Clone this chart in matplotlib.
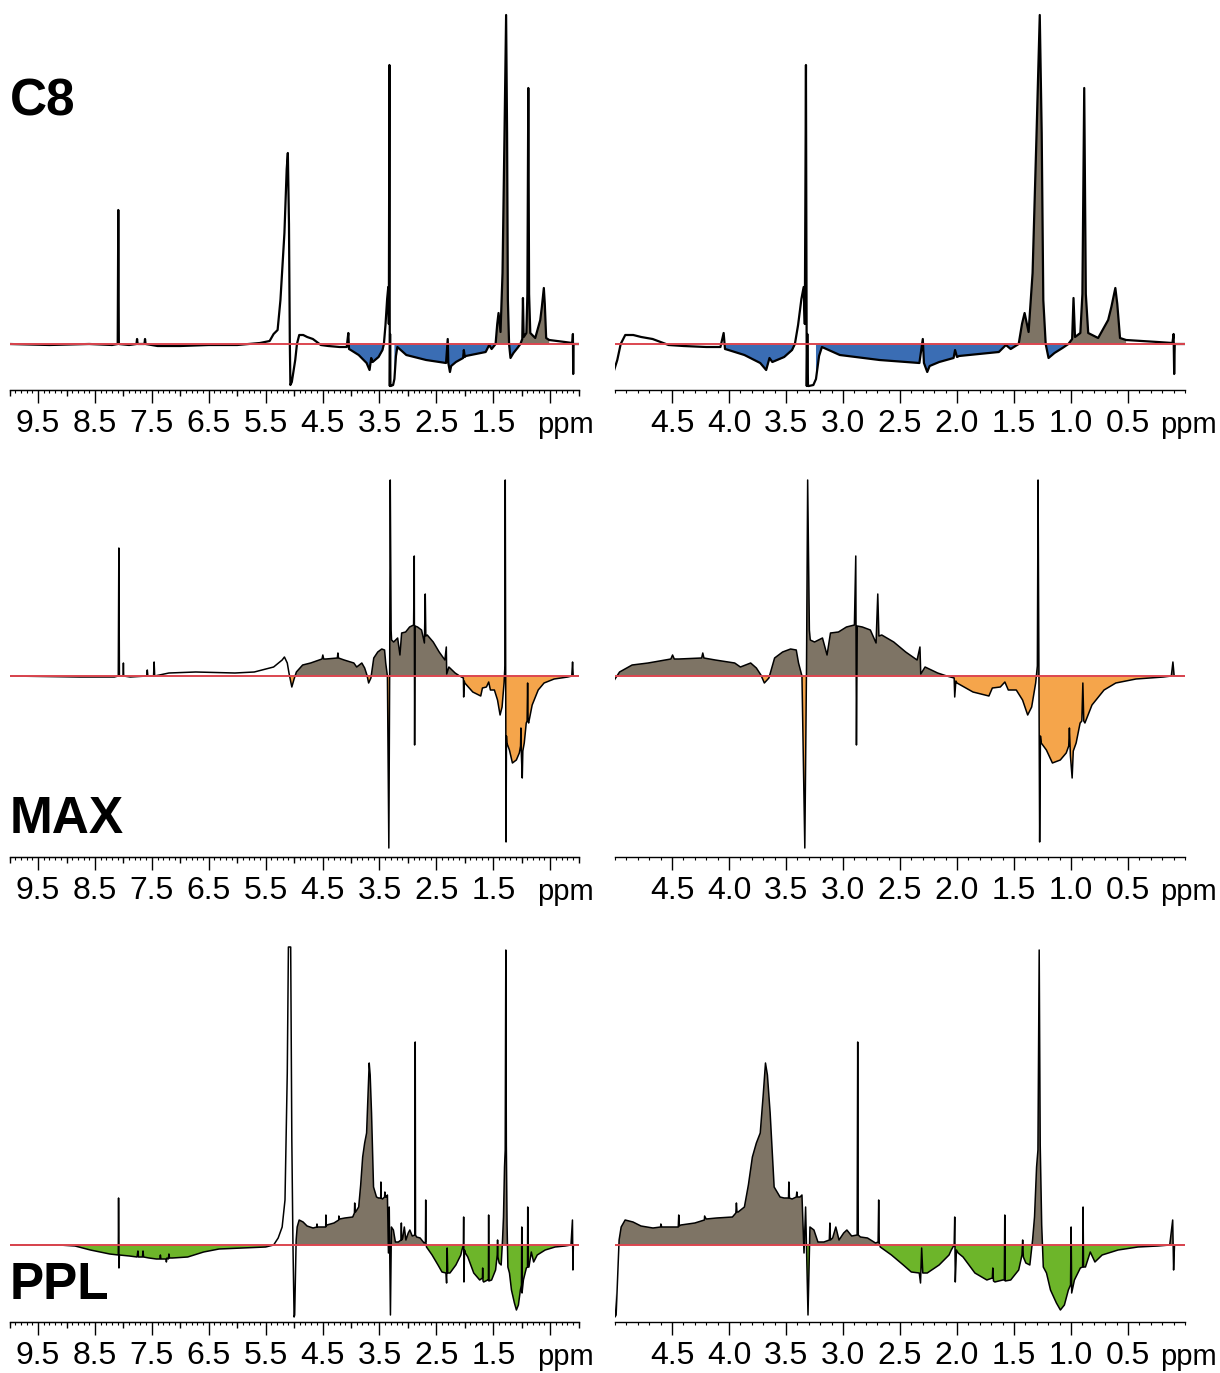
import matplotlib
matplotlib.use('Agg')
import matplotlib.pyplot as plt
import matplotlib.transforms as mtransforms
from matplotlib.ticker import MultipleLocator, NullLocator
import numpy as np

plt.rcParams['font.family'] = ['Liberation Sans', 'DejaVu Sans']

# spectra: (ppm, intensity above baseline)
c8_points = [
    (10.0, 0), (9.3, -1), (8.6, 0), (8.2, -1), (8.10, 0), (8.09, 134), (8.08, 0), (7.9, -1),
    (7.77, 0), (7.76, 5), (7.75, 0), (7.63, 0), (7.62, 5), (7.61, 0), (7.4, -2), (7.0, -2),
    (6.5, -1), (6.0, -1), (5.6, 1), (5.43, 3), (5.36, 10), (5.29, 14), (5.24, 44), (5.17, 111),
    (5.13, 175), (5.11, 191), (5.09, 120), (5.075, 0), (5.065, -41), (5.04, -38), (4.98, -16),
    (4.95, 0), (4.91, 9), (4.84, 9), (4.77, 7), (4.67, 5), (4.60, 2), (4.53, -1), (4.4, -2),
    (4.2, -3), (4.075, -3), (4.047, 11), (4.035, -5), (4.005, -6), (3.865, -11), (3.726, -19),
    (3.674, -26), (3.645, -14), (3.62, -18), (3.516, -13), (3.447, -6), (3.422, 0), (3.394, 19),
    (3.365, 45), (3.345, 57), (3.335, 20), (3.325, 279), (3.318, -42), (3.313, 10), (3.307, -42),
    (3.30, -42), (3.26, -41), (3.237, -35), (3.21, -12), (3.185, -3), (3.028, -11), (2.68, -16),
    (2.33, -19), (2.30, 5), (2.29, -19), (2.261, -28), (2.24, -22), (2.156, -18), (2.03, -14),
    (2.017, -6), (2.0, -13), (1.982, -12), (1.633, -8), (1.571, -1), (1.529, -5), (1.459, 0),
    (1.43, 20), (1.407, 31), (1.372, 12), (1.337, 71), (1.302, 211), (1.274, 329), (1.257, 211),
    (1.243, 44), (1.222, 0), (1.197, -14), (1.145, -9), (1.075, -4), (1.023, 0), (0.99, 5),
    (0.978, 46), (0.965, 7), (0.918, 11), (0.90, 50), (0.884, 256), (0.87, 50), (0.849, 11),
    (0.762, 6), (0.674, 24), (0.646, 37), (0.611, 56), (0.594, 40), (0.57, 6), (0.517, 4),
    (0.24, 2), (0.11, 1), (0.1, 10), (0.095, -30), (0.09, 0), (0.0, 0),
]

max_points = [
    (10.0, 0), (8.77, -1), (8.16, -1), (8.09, 0), (8.08, 128), (8.07, 0), (8.005, 0), (8.0, 13),
    (7.995, 0), (7.88, -1), (7.59, 0), (7.58, 6), (7.57, 0), (7.47, 0), (7.46, 14), (7.45, 0),
    (7.2, 3), (6.73, 4), (6.04, 3), (5.7, 4), (5.36, 9), (5.21, 16), (5.17, 19), (5.12, 13),
    (5.09, 3), (5.04, -11), (5.0, -3), (4.96, 4), (4.85, 11), (4.71, 13), (4.51, 17), (4.495, 21),
    (4.48, 17), (4.44, 17), (4.24, 18), (4.23, 23), (4.22, 18), (4.12, 16), (3.95, 13), (3.9, 9),
    (3.81, 13), (3.76, 8), (3.72, 1), (3.69, -7), (3.65, -2), (3.60, 18), (3.53, 24), (3.46, 27),
    (3.41, 26), (3.39, 13), (3.36, 0), (3.335, -172), (3.32, 10), (3.31, 196), (3.295, 46),
    (3.287, 36), (3.25, 34), (3.18, 38), (3.14, 21), (3.11, 43), (3.04, 44), (2.97, 49),
    (2.90, 51), (2.888, 120), (2.882, -69), (2.875, 50), (2.83, 49), (2.76, 46), (2.71, 33),
    (2.695, 82), (2.685, 40), (2.66, 41), (2.555, 34), (2.45, 24), (2.35, 16), (2.325, 29),
    (2.318, 2), (2.28, 9), (2.17, 3), (2.09, 0), (2.025, -2), (2.02, -21), (2.01, -5), (2.0, -7),
    (1.86, -16), (1.72, -20), (1.69, -12), (1.62, -11), (1.58, -6), (1.55, -14), (1.48, -14),
    (1.425, -24), (1.38, -39), (1.345, -31), (1.31, -7), (1.295, 10), (1.289, 196), (1.282, 20),
    (1.275, -166), (1.268, -60), (1.261, -67), (1.216, -74), (1.163, -87), (1.094, -84),
    (1.042, -77), (1.02, -70), (1.014, -52), (1.005, -80), (0.99, -102), (0.98, -75),
    (0.955, -67), (0.92, -47), (0.905, -45), (0.896, -7), (0.888, -45), (0.878, -47),
    (0.816, -29), (0.71, -14), (0.607, -7), (0.43, -3), (0.19, -1), (0.12, 0), (0.106, 14),
    (0.095, 0), (0.0, 0),
]

ppl_points = [
    (10.0, 0), (9.13, 0), (8.85, -1), (8.58, -5), (8.24, -9), (8.09, -10), (8.085, 47),
    (8.078, -23), (8.07, -10), (7.895, -11), (7.76, -12), (7.745, -6), (7.735, -12), (7.665, -12),
    (7.655, -6), (7.645, -12), (7.55, -13), (7.42, -14), (7.36, -14), (7.35, -10), (7.34, -14),
    (7.25, -14), (7.245, -17), (7.235, -13), (7.21, -14), (7.2, -9), (7.19, -13), (7.14, -13),
    (6.87, -12), (6.59, -7), (6.32, -4), (5.91, -3), (5.5, -2), (5.36, 0), (5.28, 7), (5.21, 18),
    (5.16, 45), (5.12, 172), (5.10, 298), (5.06, 298), (5.04, 105), (5.02, 0), (5.0, -72),
    (4.99, -70), (4.975, -28), (4.964, 5), (4.946, 18), (4.911, 25), (4.842, 23), (4.772, 19),
    (4.667, 17), (4.60, 18), (4.598, 21), (4.59, 18), (4.493, 18), (4.445, 18), (4.441, 30),
    (4.437, 19), (4.423, 20), (4.3, 22), (4.216, 25), (4.214, 29), (4.20, 26), (4.109, 27),
    (3.97, 28), (3.94, 32), (3.935, 42), (3.93, 33), (3.92, 33), (3.865, 38), (3.83, 60),
    (3.795, 88), (3.76, 102), (3.726, 112), (3.70, 150), (3.68, 182), (3.663, 170), (3.639, 132),
    (3.604, 58), (3.552, 48), (3.517, 47), (3.478, 47), (3.475, 63), (3.47, 47), (3.447, 46),
    (3.41, 48), (3.405, 53), (3.40, 48), (3.377, 48), (3.36, 50), (3.342, -8), (3.328, 38),
    (3.307, -70), (3.29, 18), (3.255, 15), (3.22, 3), (3.168, 3), (3.12, 5), (3.115, 22),
    (3.11, 5), (3.091, 7), (3.063, 18), (3.035, 5), (2.994, 12), (2.966, 15), (2.924, 9),
    (2.876, 10), (2.871, 203), (2.866, 10), (2.847, 8), (2.785, 7), (2.715, 2), (2.692, 3),
    (2.687, 45), (2.682, 2), (2.673, -2), (2.575, -10), (2.471, -20), (2.401, -27), (2.331, -28),
    (2.32, -38), (2.31, -3), (2.30, -28), (2.261, -28), (2.157, -20), (2.07, -10), (2.05, -5),
    (2.025, 0), (2.02, 28), (2.015, -37), (2.005, -5), (1.99, -8), (1.947, -12), (1.843, -28),
    (1.738, -35), (1.69, -33), (1.686, -23), (1.68, -36), (1.668, -37), (1.598, -35),
    (1.585, -35), (1.581, 30), (1.577, -36), (1.529, -35), (1.459, -25), (1.43, -10),
    (1.424, 5), (1.418, -12), (1.396, -18), (1.361, -20), (1.337, 5), (1.32, 28), (1.302, 78),
    (1.29, 95), (1.279, 295), (1.27, 100), (1.257, 20), (1.243, -22), (1.215, -28), (1.18, -45),
    (1.128, -58), (1.093, -65), (1.058, -60), (1.023, -45), (1.004, -40), (0.999, 18),
    (0.994, -48), (0.97, -35), (0.918, -23), (0.898, -22), (0.894, 38), (0.89, -22),
    (0.873, -22), (0.831, -7), (0.79, -17), (0.727, -10), (0.587, -5), (0.413, -2),
    (0.238, -1), (0.134, 0), (0.108, 25), (0.1, -25), (0.092, 0), (0.0, 0),
]

labels = ['C8', 'MAX', 'PPL']
neg_colors = ['#3a6db4', '#f5a54b', '#6db52a']
fill_spans = [
    [(4.04, 3.42), (3.25, 0.5)],
    [(5.09, 0.0)],
    [(9.13, 5.36), (4.964, 0.0)],
]
pos_color = '#7e7465'
base_color = '#dc4650'

left_ticks = [9.5, 8.5, 7.5, 6.5, 5.5, 4.5, 3.5, 2.5, 1.5, 0.5]
left_ticklabels = ['9.5', '8.5', '7.5', '6.5', '5.5', '4.5', '3.5', '2.5', '1.5', '']
right_ticks = [4.5, 4.0, 3.5, 3.0, 2.5, 2.0, 1.5, 1.0, 0.5]
right_ticklabels = ['4.5', '4.0', '3.5', '3.0', '2.5', '2.0', '1.5', '1.0', '0.5']

# layout in pixels: (top, axis line, baseline, label baseline)
W, H = 1220, 1373
rows_px = [(5, 390, 344, 115), (470, 857, 676, 833), (940, 1322, 1245, 1299)]
line_w = [1.6, 1.1, 1.1]

fig = plt.figure(figsize=(W / 100, H / 100), dpi=100)


def px_axes(x0, x1, top, bottom):
    return fig.add_axes([x0 / W, 1 - bottom / H, (x1 - x0) / W, (bottom - top) / H])


all_points = [c8_points, max_points, ppl_points]
for i, pts in enumerate(all_points):
    ppm, inten = np.array(pts, dtype=float).T
    top, axis_y, base_y, lab_y = rows_px[i]
    for side in ['left', 'right']:
        if side == 'left':
            ax = px_axes(9.6, 578.6, top, axis_y)
            ax.set_xlim(10, 0)
        else:
            ax = px_axes(615, 1185, top, axis_y)
            ax.set_xlim(5, 0)
        ax.set_ylim(-(axis_y - base_y), base_y - top)

        for hi, lo in fill_spans[i]:
            m = (ppm <= hi) & (ppm >= lo)
            xs, ys = ppm[m], inten[m]
            ax.fill_between(xs, ys, 0, where=ys > 0, interpolate=True,
                            color=pos_color, lw=0, zorder=1)
            ax.fill_between(xs, ys, 0, where=ys < 0, interpolate=True,
                            color=neg_colors[i], lw=0, zorder=1)
        ax.plot(ppm, inten, color='black', lw=line_w[i], zorder=2)
        ax.axhline(0, color=base_color, lw=1.4, zorder=3)

        for s in ['top', 'left', 'right']:
            ax.spines[s].set_visible(False)
        ax.spines['bottom'].set_linewidth(1.0)
        ax.set_yticks([])
        ax.xaxis.set_minor_locator(MultipleLocator(0.1))
        ax.tick_params(axis='x', which='major', direction='out', length=9, width=1.0,
                       labelsize=23, pad=5)
        ax.tick_params(axis='x', which='minor', direction='out', length=2.2, width=0.8)
        ax.patch.set_alpha(0)

        tr = mtransforms.blended_transform_factory(ax.transData, fig.transFigure)
        ppm_y = 1 - (axis_y + 43) / H
        if side == 'left':
            ax.set_xticks(left_ticks)
            ax.set_xticklabels(left_ticklabels)
            sec = ax.secondary_xaxis('bottom')
            sec.set_xticks(range(0, 11))
            sec.xaxis.set_minor_locator(NullLocator())
            sec.tick_params(axis='x', direction='out', length=4.5, width=1.0,
                            labelbottom=False)
            ax.text(0.24, ppm_y, 'ppm', transform=tr, ha='center',
                    va='baseline', fontsize=21)
        else:
            ax.set_xticks(right_ticks)
            ax.set_xticklabels(right_ticklabels)
            ax.text(-0.03, ppm_y, 'ppm', transform=tr, ha='center',
                    va='baseline', fontsize=21)

    fig.text(10 / W, 1 - lab_y / H, labels[i], fontsize=37, fontweight='bold',
             ha='left', va='baseline')

fig.savefig('out.png', dpi=100)
